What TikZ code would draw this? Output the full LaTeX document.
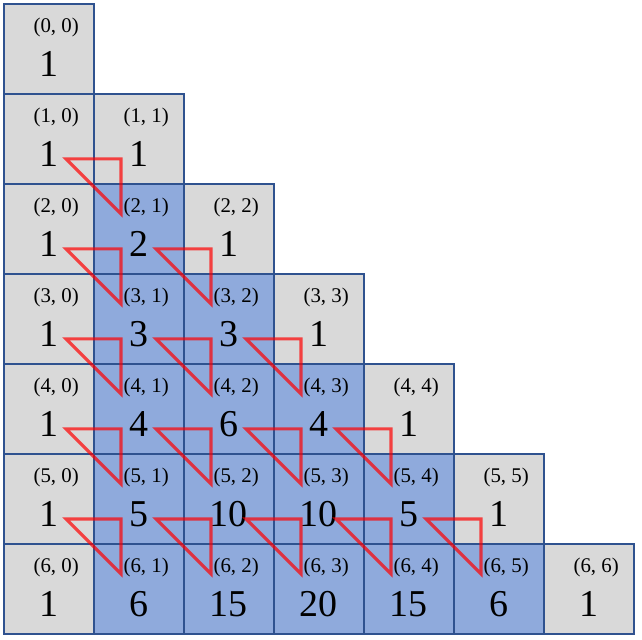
\documentclass[tikz,border=0pt]{standalone}
\usepackage{fontspec}
\setmainfont{Liberation Serif}
\usetikzlibrary{calc}
\definecolor{edgegray}{HTML}{D9D9D9}
\definecolor{innerblue}{HTML}{8FAADC}
\definecolor{gridblue}{HTML}{2F528F}
\begin{document}
\begin{tikzpicture}[x=1cm, y=1cm,
    cell/.style={rectangle, draw=gridblue, line width=0.65pt, minimum size=1cm, inner sep=0pt},
    val/.style={anchor=base, inner sep=0pt, font=\fontsize{12}{14}\selectfont},
    idx/.style={anchor=base, inner sep=0pt, font=\fontsize{6.6}{8}\selectfont},
    tri/.style={draw=red, draw opacity=0.7, line width=1pt, line join=miter}]
    \useasboundingbox (-0.044,-7.056) rectangle (7.089,0.044);

    % Zellen des Dreiecks
    \foreach \n in {0,...,6} {
        \foreach \k in {0,...,\n} {
            \ifnum\k=0 \def\cfill{edgegray}\else\ifnum\k=\n \def\cfill{edgegray}\else\def\cfill{innerblue}\fi\fi
            \node[cell, fill=\cfill] (c-\n-\k) at (\k+0.5,-\n-0.5) {};
        }
    }

    % Werte und Indizes
    \foreach \n in {0,...,6} {
        \foreach \k in {0,...,\n} {
            \pgfmathtruncatemacro\b{factorial(\n)/(factorial(\k)*factorial(\n-\k))}
            \node[val] (v-\n-\k) at (\k+0.5,-\n-0.81) {\b};
            \node[idx] (l-\n-\k) at (\k+0.58,-\n-0.32) {(\n, \k)};
        }
    }

    % Summendreiecke
    \foreach \n in {1,...,5} {
        \pgfmathtruncatemacro\m{\n-1}
        \pgfmathtruncatemacro\nn{\n+1}
        \foreach \k in {0,...,\m} {
            \pgfmathtruncatemacro\kk{\k+1}
            \draw[tri] ($(c-\n-\k.north west)+(0.7,-0.733)$)
                -- ($(c-\n-\kk.north west)+(0.311,-0.733)$)
                -- ($(c-\nn-\kk.north west)+(0.311,-0.344)$) -- cycle;
        }
    }
\end{tikzpicture}
\end{document}
